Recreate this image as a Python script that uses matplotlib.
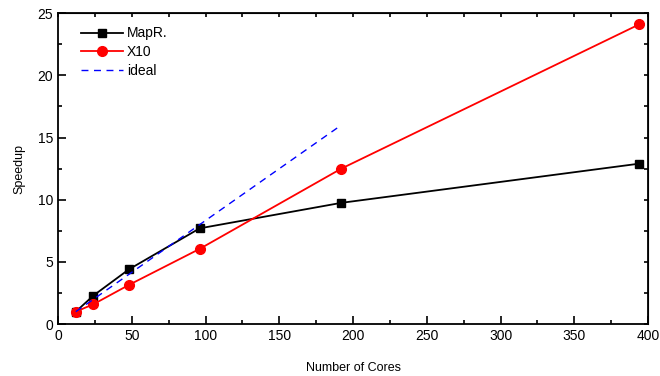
import matplotlib
matplotlib.use("Agg")
import matplotlib.pyplot as plt
from matplotlib.ticker import MultipleLocator, NullFormatter

plt.rcParams['font.family'] = ['Liberation Sans', 'DejaVu Sans']

# data
cores = [12, 24, 48, 96, 192, 394]
mapr = [1.0, 2.3, 4.4, 7.7, 9.75, 12.9]
x10 = [1.0, 1.6, 3.15, 6.05, 12.5, 24.1]
ideal_x = [12, 192]
ideal_y = [1, 16]

fig = plt.figure(figsize=(6.6, 3.76), dpi=100)
ax = fig.add_axes([0.088, 0.138, 0.894, 0.827])

ax.plot(cores, mapr, color='black', marker='s', markersize=6, lw=1.3, label='MapR.')
ax.plot(cores, x10, color='red', marker='o', markersize=7, lw=1.3, label='X10')
ax.plot(ideal_x, ideal_y, color='blue', ls=(0, (5, 4)), lw=1.0, label='ideal')

ax.set_xlim(0, 400)
ax.set_ylim(0, 25)
ax.xaxis.set_major_locator(MultipleLocator(50))
ax.xaxis.set_minor_locator(MultipleLocator(25))
ax.yaxis.set_major_locator(MultipleLocator(5))
ax.yaxis.set_minor_locator(MultipleLocator(2.5))
ax.tick_params(which='both', direction='in', labelsize=10, width=1.2)
ax.tick_params(which='major', length=6)
ax.tick_params(which='minor', length=3)
for s in ax.spines.values():
    s.set_linewidth(1.3)

# short ticks only on top and right
top = ax.secondary_xaxis('top')
top.xaxis.set_major_locator(MultipleLocator(25))
top.xaxis.set_major_formatter(NullFormatter())
top.tick_params(direction='in', length=3, width=1.2)
right = ax.secondary_yaxis('right')
right.yaxis.set_major_locator(MultipleLocator(2.5))
right.yaxis.set_major_formatter(NullFormatter())
right.tick_params(direction='in', length=3, width=1.2)

ax.set_xlabel('Number of Cores', fontsize=9, labelpad=14)
ax.set_ylabel('Speedup', fontsize=9, labelpad=9)

ax.legend(loc='upper left', bbox_to_anchor=(0.03, 0.975), frameon=False,
          fontsize=10, handlelength=3.0, labelspacing=0.35, borderaxespad=0,
          handletextpad=0.3)

fig.savefig('out.png', dpi=100)
